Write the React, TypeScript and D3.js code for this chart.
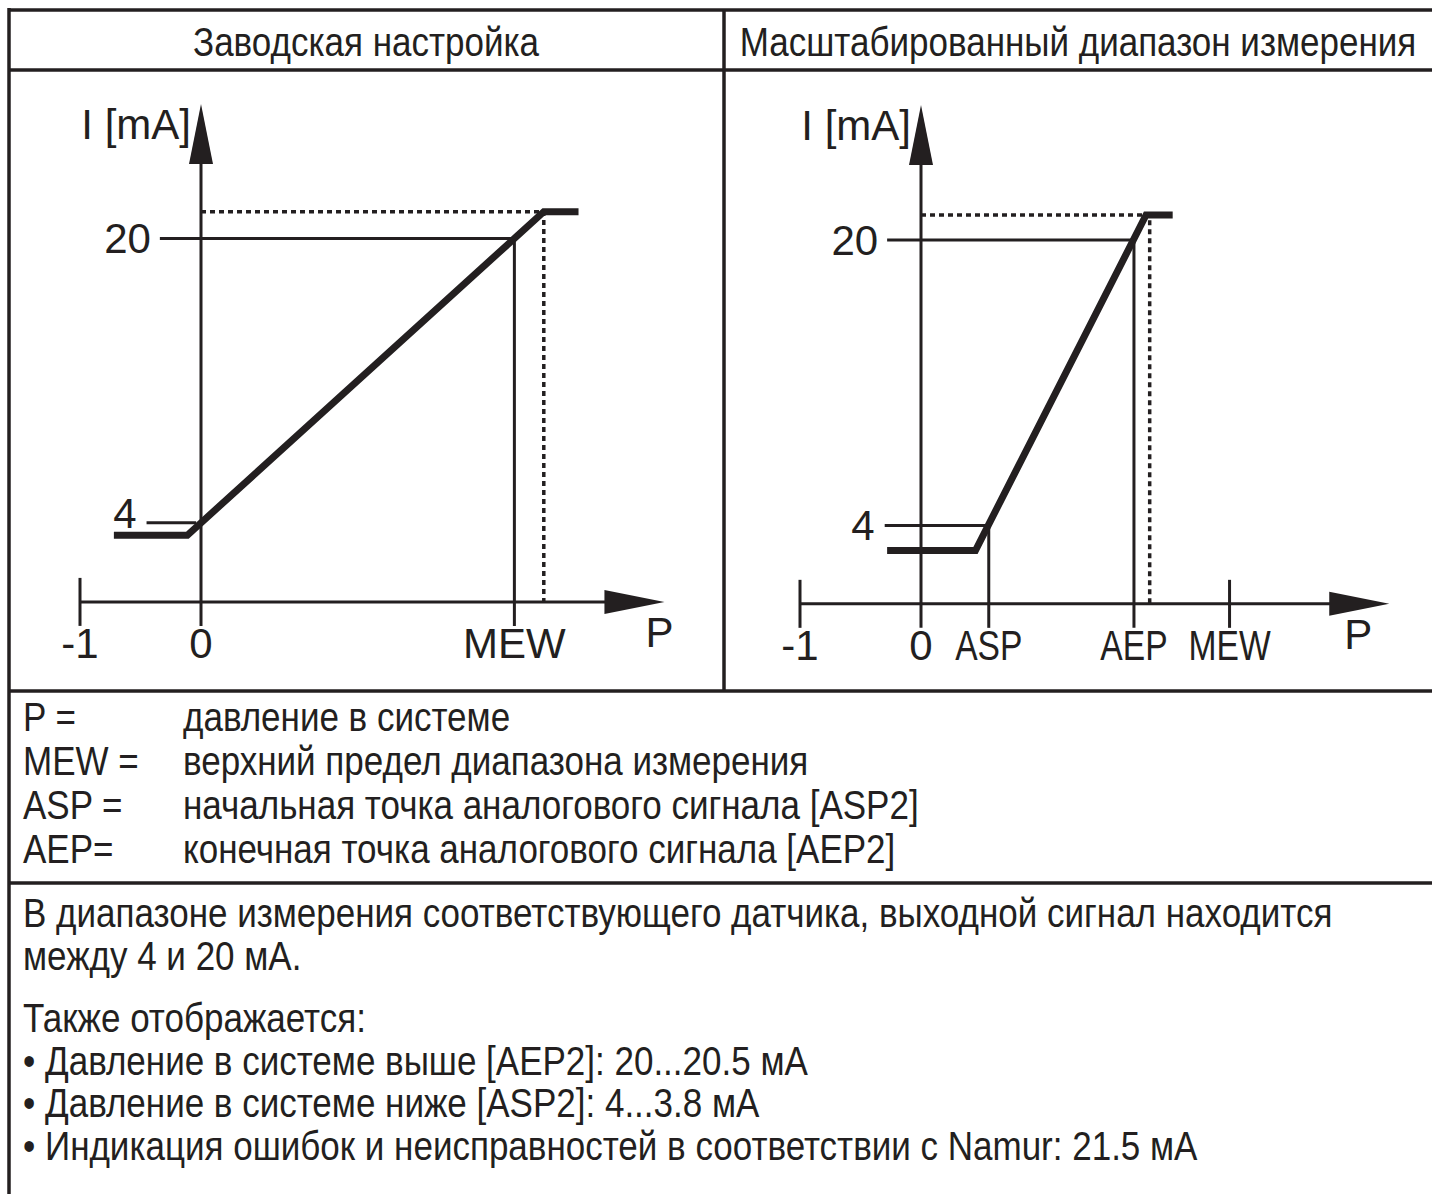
import React, { useEffect, useRef } from 'react';
import * as d3 from 'd3';

// --- data (P in bar, I in mA; the sketch is schematic) ---
const headers = ['Заводская настройка', 'Масштабированный диапазон измерения'];

const factoryCurve = [
  { p: -0.72, i: 3.3 },
  { p: -0.113, i: 3.3 },
  { p: 2.833, i: 21.5 },
  { p: 3.12, i: 21.5 },
];
const factoryTicks = [
  { p: -1, label: '-1' },
  { p: 0, label: '0' },
  { p: 2.59, label: 'MEW' },
];
const factoryLevels = { low: 4, high: 20, over: 21.5, overP: 2.833, axis: -0.45, pEnd: 3.83 };

const scaledCurve = [
  { p: -0.28, i: 2.6 },
  { p: 0.45, i: 2.6 },
  { p: 1.86, i: 21.4 },
  { p: 2.08, i: 21.4 },
];
const scaledTicks = [
  { p: -1, label: '-1' },
  { p: 0, label: '0' },
  { p: 0.56, label: 'ASP' },
  { p: 1.76, label: 'AEP' },
  { p: 2.55, label: 'MEW' },
];
const scaledLevels = { low: 4, high: 20, over: 21.4, overP: 1.89, axis: -0.39, pEnd: 3.87 };

const legendKeys = ['P =', 'MEW =', 'ASP =', 'AEP='];
const legendTexts = [
  'давление в системе',
  'верхний предел диапазона измерения',
  'начальная точка аналогового сигнала [ASP2]',
  'конечная точка аналогового сигнала [AEP2]',
];
const notes = [
  'В диапазоне измерения соответствующего датчика, выходной сигнал находится',
  'между 4 и 20 мА.',
  'Также отображается:',
  '• Давление в системе выше [AEP2]: 20...20.5 мА',
  '• Давление в системе ниже [ASP2]: 4...3.8 мА',
  '• Индикация ошибок и неисправностей в соответствии с Namur: 21.5 мА',
];

const INK = '#231f20';
const FONT = '"Liberation Sans", Arial, Helvetica, sans-serif';
const W = 1432;
const H = 1194;
const BODY = 40; // condensed body text: drawn at 40px, squeezed to 35px widths
const SQ = 35 / BODY;

export default function App() {
  const ref = useRef<SVGSVGElement>(null);

  useEffect(() => {
    const svg = d3.select(ref.current);
    svg.selectAll('*').remove();

    const txt = (x: number, y: number, t: string, size: number, sx = 1, anchor = 'start') =>
      svg.append('text')
        .attr('transform', `translate(${x},${y}) scale(${sx},1)`)
        .attr('text-anchor', anchor)
        .attr('font-family', FONT).attr('font-size', size).attr('fill', INK)
        .text(t);

    // table frame
    const frame = svg.append('g').attr('stroke', INK).attr('stroke-width', 3.5).attr('fill', 'none');
    frame.append('line').attr('x1', 9).attr('x2', W + 5).attr('y1', 10).attr('y2', 10);
    frame.append('line').attr('x1', 9).attr('x2', 9).attr('y1', 8).attr('y2', H + 5);
    frame.append('line').attr('x1', 9).attr('x2', W + 5).attr('y1', 70).attr('y2', 70);
    frame.append('line').attr('x1', 724).attr('x2', 724).attr('y1', 10).attr('y2', 691);
    frame.append('line').attr('x1', 9).attr('x2', W + 5).attr('y1', 691).attr('y2', 691);
    frame.append('line').attr('x1', 9).attr('x2', W + 5).attr('y1', 883).attr('y2', 883);

    const hdr = [366, 1078];
    headers.forEach((t, k) => txt(hdr[k], 56, t, BODY, SQ, 'middle'));

    const drawPanel = (
      curve: { p: number; i: number }[],
      ticks: { p: number; label: string }[],
      lv: typeof factoryLevels,
      x0: number,
      yRange: [number, number],
      opts: { line20: number; line4: [number, number]; fourDy: number; drops: string[]; tickOnly: string[]; pDx: number; letterSq: number },
    ) => {
      const g = svg.append('g');
      const x = d3.scaleLinear().domain([-1, 0]).range([x0 - 121, x0]);
      const y = d3.scaleLinear().domain([4, 20]).range(yRange);
      const ay = y(lv.axis);
      const TICK = 24;
      const thin = 3;
      const lastDrop = ticks.find((t) => t.label === opts.drops[opts.drops.length - 1])!;

      // reference lines for 4 and 20 mA
      g.append('line').attr('x1', x(opts.line20)).attr('x2', x(lastDrop.p))
        .attr('y1', y(lv.high)).attr('y2', y(lv.high)).attr('stroke', INK).attr('stroke-width', thin);
      g.append('line').attr('x1', x(opts.line4[0])).attr('x2', x(opts.line4[1]))
        .attr('y1', y(lv.low)).attr('y2', y(lv.low)).attr('stroke', INK).attr('stroke-width', thin);

      // vertical drop lines and ticks
      ticks.forEach((t) => {
        if (opts.drops.includes(t.label)) {
          const top = t.label === 'ASP' ? y(lv.low) : y(lv.high);
          g.append('line').attr('x1', x(t.p)).attr('x2', x(t.p)).attr('y1', top).attr('y2', ay + TICK)
            .attr('stroke', INK).attr('stroke-width', thin);
        } else if (opts.tickOnly.includes(t.label)) {
          g.append('line').attr('x1', x(t.p)).attr('x2', x(t.p)).attr('y1', ay - TICK).attr('y2', ay + TICK)
            .attr('stroke', INK).attr('stroke-width', thin);
        }
      });

      // dotted over-range guides
      g.append('path')
        .attr('d', `M${x(0)},${y(lv.over)}H${x(lv.overP)}V${ay}`)
        .attr('fill', 'none').attr('stroke', INK).attr('stroke-width', 3.5).attr('stroke-dasharray', '5,4');

      // axes with arrowheads
      const xEnd = x(lv.pEnd);
      g.append('line').attr('x1', x(-1)).attr('x2', xEnd - 50).attr('y1', ay).attr('y2', ay)
        .attr('stroke', INK).attr('stroke-width', thin);
      g.append('path').attr('d', `M${xEnd - 60},${ay - 12}L${xEnd},${ay}L${xEnd - 60},${ay + 12}Z`).attr('fill', INK);
      const yTop = y(27.56);
      g.append('line').attr('x1', x(0)).attr('x2', x(0)).attr('y1', ay + TICK).attr('y2', yTop + 50)
        .attr('stroke', INK).attr('stroke-width', thin);
      g.append('path').attr('d', `M${x(0) - 12},${yTop + 60}L${x(0)},${yTop}L${x(0) + 12},${yTop + 60}Z`).attr('fill', INK);

      // characteristic curve
      const line = d3.line<{ p: number; i: number }>().x((d) => x(d.p)).y((d) => y(d.i));
      g.append('path').datum(curve).attr('d', line).attr('fill', 'none')
        .attr('stroke', INK).attr('stroke-width', 7).attr('stroke-linejoin', 'miter');

      // labels
      ticks.forEach((t) => {
        const isWord = /[A-Z]/.test(t.label);
        txt(x(t.p), ay + 56, t.label, 42, isWord ? opts.letterSq : 1, 'middle');
      });
      txt(xEnd + opts.pDx, ay + 45, 'P', 42, 1, 'middle');
      txt(x(0) - 10, yTop + 35, 'I [mA]', 42, 1, 'end');
      txt(x(opts.line20) - 9, y(lv.high) + 15, '20', 42, 1, 'end');
      txt(x(opts.line4[0]) - 10, y(lv.low) + opts.fourDy, '4', 42, 1, 'end');
    };

    drawPanel(factoryCurve, factoryTicks, factoryLevels, 201, [522.8, 238.4], {
      line20: -0.34, line4: [-0.45, -0.04], fourDy: 5, drops: ['MEW'], tickOnly: ['-1'], pDx: -5, letterSq: 1,
    });
    drawPanel(scaledCurve, scaledTicks, scaledLevels, 921, [525.5, 240], {
      line20: -0.28, line4: [-0.3, 0.56], fourDy: 14, drops: ['ASP', 'AEP'], tickOnly: ['-1', 'MEW'], pDx: -31, letterSq: 0.8,
    });

    // legend
    legendKeys.forEach((k, n) => {
      const yy = 731 + n * 44;
      txt(23, yy, k, BODY, SQ);
      txt(183, yy, legendTexts[n], BODY, SQ);
    });

    // notes
    const noteY = [927, 970, 1032, 1075, 1117, 1160];
    notes.forEach((t, n) => txt(23, noteY[n], t, BODY, SQ));
  }, []);

  return (
    <div>
      <svg ref={ref} width={W} height={H} style={{ position: 'absolute', left: 0, top: 0, background: '#fff' }} />
    </div>
  );
}
